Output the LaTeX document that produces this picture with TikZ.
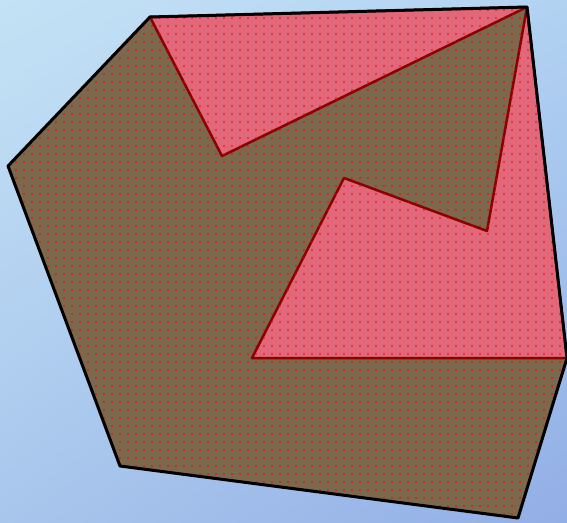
\documentclass[tikz,border=0pt]{standalone}
\usetikzlibrary{patterns.meta,shadings}
\definecolor{bgul}{RGB}{196,226,245}
\definecolor{bgur}{RGB}{178,210,242}
\definecolor{bgll}{RGB}{168,198,236}
\definecolor{bglr}{RGB}{146,174,230}
\definecolor{brownfill}{RGB}{124,104,76}
\definecolor{pinkfill}{RGB}{224,104,122}
\definecolor{edgered}{RGB}{140,0,0}
\tikzset{
  outerpoly/.style={draw=black,line width=3pt,line join=round},
  brownregion/.style={fill=brownfill},
  pinkregion/.style={fill=pinkfill,draw=edgered,line width=2.5pt,line join=round},
  dotpat/.style={pattern={Dots[distance=8pt,radius=0.8pt]},pattern color=red},
}
\begin{document}
\begin{tikzpicture}[x=1pt,y=-1pt]
\useasboundingbox (0,0) rectangle (567,522);
\shade[upper left=bgul,upper right=bgur,lower left=bgll,lower right=bglr] (0,0) rectangle (567,522);
\coordinate (A) at (150,17);
\coordinate (B) at (527,7);
\coordinate (C) at (567,358);
\coordinate (D) at (518,518);
\coordinate (E) at (120,466);
\coordinate (F) at (8,166);
\coordinate (G) at (222,156);
\coordinate (H) at (252,358);
\coordinate (I) at (344,178);
\coordinate (J) at (487,231);
\fill[brownregion] (A) -- (B) -- (C) -- (D) -- (E) -- (F) -- cycle;
\fill[dotpat] (A) -- (B) -- (C) -- (D) -- (E) -- (F) -- cycle;
\filldraw[pinkregion] (A) -- (B) -- (G) -- cycle;
\filldraw[pinkregion] (B) -- (C) -- (H) -- (I) -- (J) -- cycle;
\fill[dotpat] (A) -- (B) -- (G) -- cycle;
\fill[dotpat] (B) -- (C) -- (H) -- (I) -- (J) -- cycle;
\draw[outerpoly] (A) -- (B) -- (C) -- (D) -- (E) -- (F) -- cycle;
\end{tikzpicture}
\end{document}
